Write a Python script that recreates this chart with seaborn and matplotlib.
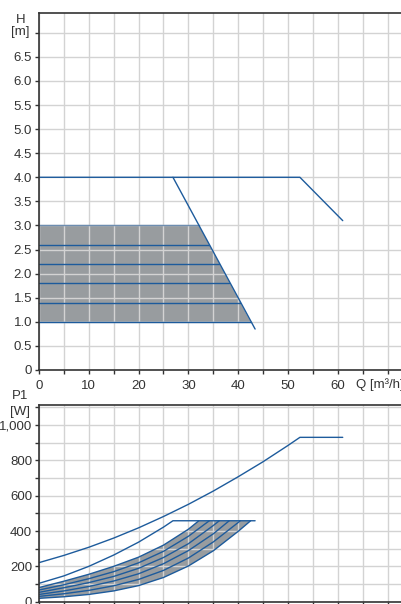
import numpy as np
import pandas as pd
import matplotlib
matplotlib.use("Agg")
import matplotlib.pyplot as plt
import seaborn as sns

# Head chart (Q in m3/h, H in m)
H_LEVELS = [3.0, 2.6, 2.2, 1.8, 1.4, 1.0]
Q_END = [32.1, 34.2, 36.2, 38.2, 40.4, 42.5]
MAX_Q = [0, 52.4, 61.0]
MAX_H = [4.0, 4.0, 3.1]
LIMIT_Q = [26.9, 43.4]
LIMIT_H = [4.0, 0.85]

# Power chart (P1 in W)
P_MAX_Q = [0, 5, 10, 15, 20, 25, 30, 35, 40, 45, 50, 52.4, 61.0]
P_MAX = [221, 262, 308, 360, 418, 482, 551, 626, 707, 792, 884, 930, 930]
P_AUTO_Q = [0, 5, 10, 15, 20, 25, 26.9, 43.4]
P_AUTO = [104, 146, 200, 264, 337, 422, 458, 458]
P_BAND_Q = [
    [0, 5, 10, 15, 20, 25, 30, 32.1],
    [0, 5, 10, 15, 20, 25, 30, 34.2],
    [0, 5, 10, 15, 20, 25, 30, 35, 36.2],
    [0, 5, 10, 15, 20, 25, 30, 35, 38.2],
    [0, 5, 10, 15, 20, 25, 30, 35, 40, 40.4],
    [0, 5, 10, 15, 20, 25, 30, 35, 40, 42.5],
]
P_BAND = [
    [80, 116, 155, 200, 252, 320, 410, 458],
    [66, 96, 130, 170, 220, 285, 370, 458],
    [53, 79, 108, 143, 189, 250, 328, 431, 458],
    [41, 61, 86, 117, 158, 215, 289, 384, 458],
    [30, 45, 64, 90, 126, 177, 247, 338, 448, 458],
    [19, 28, 41, 61, 91, 137, 202, 288, 398, 458],
]

BLUE = "#1d5b9c"
EDGE = "#6d8db0"
GREY_FILL = "#989c9f"
TEXT = "#333333"

sns.set_theme(style="whitegrid")
plt.rcParams["font.family"] = ["Liberation Sans", "DejaVu Sans"]
plt.rcParams["font.size"] = 9.5


def style_axes(ax):
    ax.set_axisbelow("line")
    ax.grid(True, which="both", color="#d3d3d3", lw=1.0)
    for side in ["left", "bottom", "top"]:
        ax.spines[side].set_visible(True)
        ax.spines[side].set_color(TEXT)
        ax.spines[side].set_linewidth(1.2)
    ax.spines["right"].set_visible(False)
    ax.tick_params(which="both", direction="out", length=3, width=1,
                   color=TEXT, labelcolor=TEXT, labelsize=9.5, pad=2,
                   left=True, bottom=True)
    ax.set_xlabel("")
    ax.set_ylabel("")


def line(ax, q, v, color=BLUE):
    df = pd.DataFrame({"q": q, "v": v})
    sns.lineplot(data=df, x="q", y="v", ax=ax, sort=False, estimator=None,
                 color=color, lw=1.0)


fig = plt.figure(figsize=(4.01, 6.04), dpi=100)
ax1 = fig.add_axes([39 / 401, 1 - 370 / 604, 1 - 39 / 401, 357 / 604])
ax2 = fig.add_axes([39 / 401, 1 - 601.7 / 604, 1 - 39 / 401, 196.7 / 604])

# head chart
ax1.fill([0, 0, Q_END[0], Q_END[-1]],
         [H_LEVELS[-1], H_LEVELS[0], H_LEVELS[0], H_LEVELS[-1]],
         color=GREY_FILL, lw=0, zorder=1)
for i, (h, qe) in enumerate(zip(H_LEVELS, Q_END)):
    line(ax1, [0, qe], [h, h], EDGE if i == 0 else BLUE)
line(ax1, MAX_Q, MAX_H)
line(ax1, LIMIT_Q, LIMIT_H)

ax1.set_xlim(0, 72.7)
ax1.set_ylim(0, 7.41)
style_axes(ax1)
ax1.set_xticks(np.arange(0, 71, 5))
ax1.set_xticklabels([str(v) if v % 10 == 0 and v < 70 else "" for v in range(0, 71, 5)])
yt = np.arange(0, 7.01, 0.5)
ax1.set_yticks(yt)
ax1.set_yticklabels(["0"] + [f"{v:.1f}" for v in yt[1:-1]] + [""])
ax1.tick_params(axis="x", pad=4)
fig.text(356 / 401, 1 - 385 / 604, "Q [m³/h]", ha="left", va="center", color=TEXT, fontsize=9.5)
fig.text(20.5 / 401, 1 - 20 / 604, "H", ha="center", va="center", color=TEXT, fontsize=9.5)
fig.text(30 / 401, 1 - 32 / 604, "[m]", ha="right", va="center", color=TEXT, fontsize=9.5)

# power chart
band_x = P_BAND_Q[0] + P_BAND_Q[-1][::-1]
band_y = P_BAND[0] + P_BAND[-1][::-1]
ax2.fill(band_x, band_y, color=GREY_FILL, lw=0, zorder=1)
for q, p in zip(P_BAND_Q, P_BAND):
    line(ax2, q, p)
line(ax2, P_AUTO_Q, P_AUTO)
line(ax2, P_MAX_Q, P_MAX)

ax2.set_xlim(0, 72.7)
ax2.set_ylim(0, 1113)
style_axes(ax2)
ax2.set_xticks(np.arange(0, 71, 5))
ax2.set_xticklabels([])
ax2.set_yticks(np.arange(0, 1001, 200))
ax2.set_yticklabels(["0", "200", "400", "600", "800", "1,000"])
ax2.set_yticks(np.arange(100, 1101, 200), minor=True)
fig.text(20.5 / 401, 1 - 396 / 604, "P1", ha="center", va="center", color=TEXT, fontsize=9.5)
fig.text(30.5 / 401, 1 - 412 / 604, "[W]", ha="right", va="center", color=TEXT, fontsize=9.5)

fig.savefig("out.png", dpi=100)
